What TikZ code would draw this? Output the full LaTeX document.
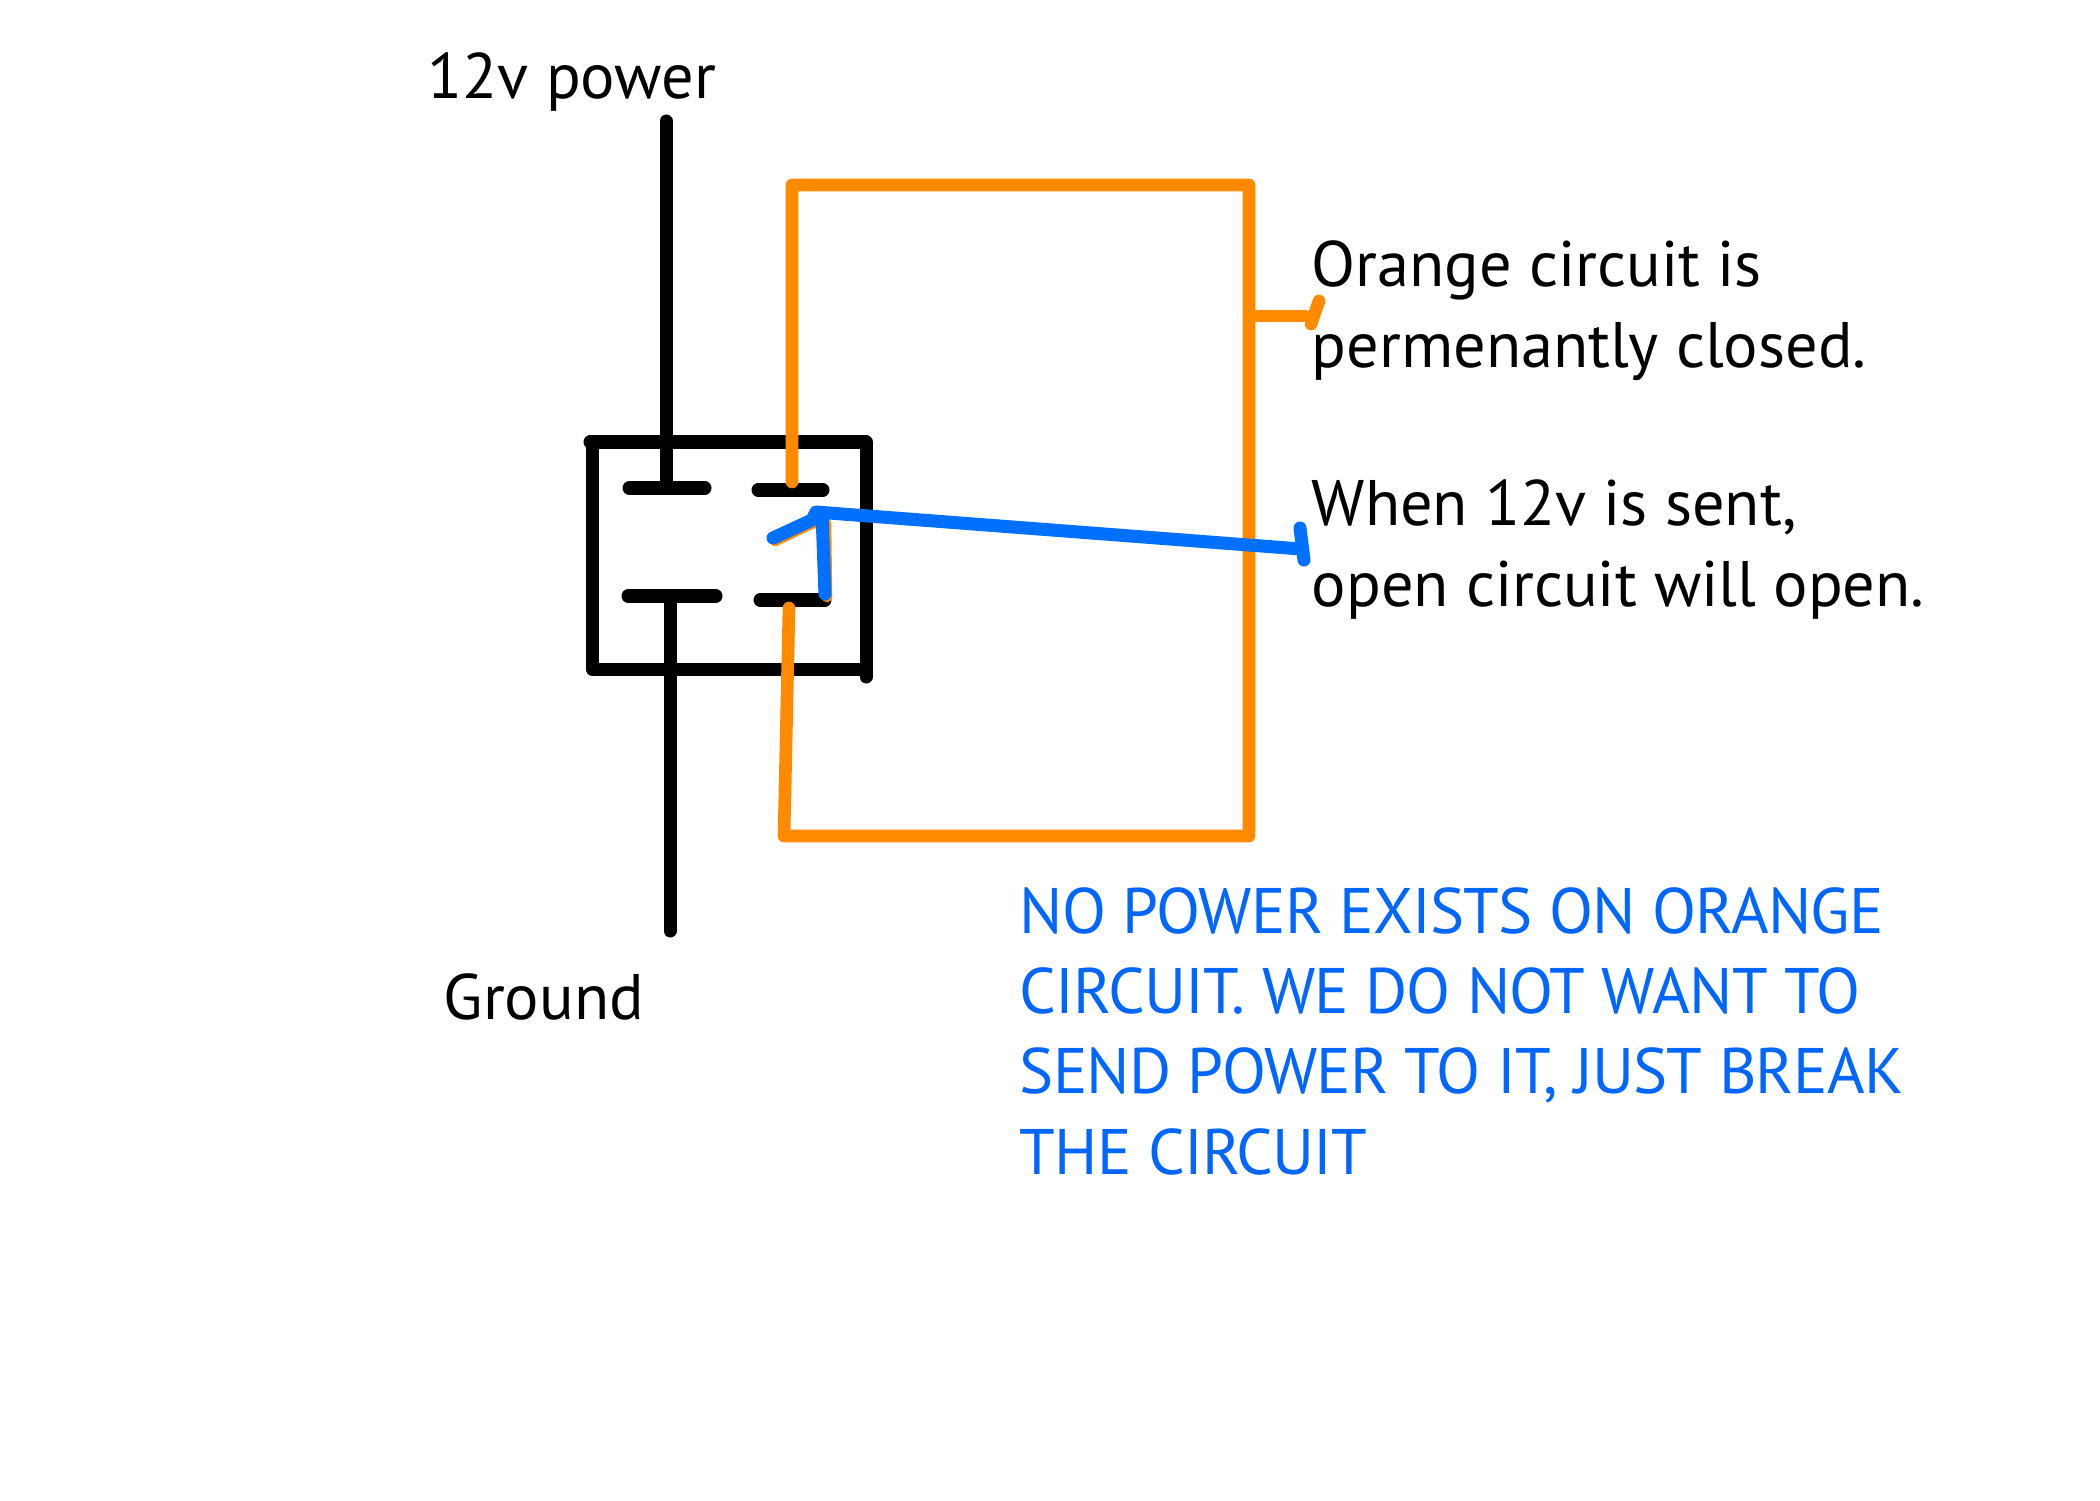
\documentclass[tikz,border=0pt]{standalone}
\usepackage{fontspec}
\setmainfont{PT Sans}
\definecolor{wireorange}{HTML}{FF8A00}
\definecolor{wireblue}{HTML}{0070FF}
\definecolor{noteblue}{HTML}{0066FF}
\tikzstyle{blackwire} = [draw=black,line width=3.7pt,line cap=round,line join=round]
\tikzstyle{orangewire} = [draw=wireorange,line width=3.6pt,line cap=round,line join=round]
\tikzstyle{bluewire} = [draw=wireblue,line width=3.7pt,line cap=round,line join=round]
\tikzstyle{label} = [inner sep=0pt,anchor=base west,align=left,
  font=\fontsize{18.3pt}{22.8pt}\selectfont]
\tikzstyle{notelabel} = [label,text=noteblue,
  font=\fontsize{18.3pt}{22.8pt}\selectfont\addfontfeature{LetterSpace=-1.2}]

\begin{document}
\begin{tikzpicture}[x=0.01cm,y=-0.01cm]
    \useasboundingbox (0,0) rectangle (2100,1500);
    % relay terminals
    \coordinate (powerend) at (666,121);
    \coordinate (powerin) at (666,488);
    \coordinate (groundend) at (670,931);
    \coordinate (groundin) at (670,596);
    \coordinate (topright) at (792,482);
    \coordinate (botright) at (789,608);
    \coordinate (armtip) at (773,538);
    \coordinate (armpivot) at (816,512);
    \coordinate (armfoot) at (825,594);
    \coordinate (bluetick) at (1301,549);
    % relay body
    \draw [blackwire] (590,442) -- (866,442) -- (866,677);
    \draw [blackwire] (866,669) -- (592,669) -- (592,442);
    \draw [blackwire] (powerend) -- (powerin);
    \draw [blackwire] (groundend) -- (groundin);
    \draw [blackwire] (629,488) -- (705,488);
    \draw [blackwire] (758,490) -- (823,490);
    \draw [blackwire] (628,596) -- (716,596);
    \draw [blackwire] (760,600) -- (825,600);
    % orange loop
    \draw [orangewire] (topright) -- (792,185) -- (1249,185) -- (1249,836)
      -- (784,836) -- (botright);
    \draw [orangewire] (1249,316) -- (1305,316);
    \draw [orangewire] (1319,301) -- (1311,324);
    \draw [orangewire,line width=3pt] (775,541) -- (813,523) -- (826,523) -- (827,597);
    % blue arm
    \draw [bluewire] (armtip) -- (812,520) -- (armpivot) -- (bluetick);
    \draw [bluewire] (822,514) -- (armfoot);
    \draw [bluewire] (1300,528) -- (1304,560);
    % labels
    \node [label] (power) at (427,99) {12v power};
    \node [label] (ground) at (443,1019) {Ground};
    \node [label] (closed) at (1311,367) {Orange circuit is\\permenantly closed.};
    \node [label] (sent) at (1311,606) {When 12v is sent,\\open circuit will open.};
    \node [notelabel] (note) at (1019,1174) {NO POWER EXISTS ON ORANGE\\CIRCUIT. WE DO NOT WANT TO\\SEND POWER TO IT, JUST BREAK\\THE CIRCUIT};
\end{tikzpicture}
\end{document}
